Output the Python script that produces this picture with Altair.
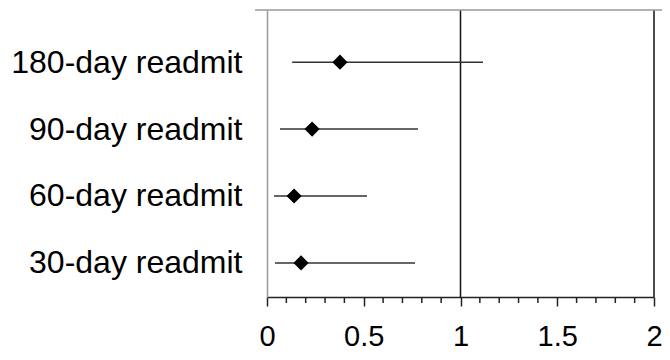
import altair as alt
import pandas as pd

outcomes = ["30-day readmit", "60-day readmit", "90-day readmit", "180-day readmit"]
positions = [1, 2, 3, 4]
estimates = [0.176, 0.14, 0.233, 0.377]
lower = [0.041, 0.036, 0.067, 0.13]
upper = [0.765, 0.517, 0.78, 1.116]

major_ticks = [0, 0.5, 1, 1.5, 2]
minor_ticks = [0.1, 0.2, 0.3, 0.4, 0.6, 0.7, 0.8, 0.9, 1.1, 1.2, 1.3, 1.4, 1.6, 1.7, 1.8, 1.9]
ref_lines = [1, 2]

W, H = 387, 287

df = pd.DataFrame({"outcome": outcomes, "pos": positions, "est": estimates,
                   "lo": lower, "hi": upper})
ticks_df = pd.DataFrame({"t": minor_ticks})
ref_df = pd.DataFrame({"r": ref_lines})

label_expr = "[" + ",".join("'" + o + "'" for o in outcomes) + "][datum.value - 1]"

xscale = alt.Scale(domain=[0, 2], nice=False, zero=False)
yscale = alt.Scale(domain=[0.49, 4.78], nice=False, zero=False)

x_axis = alt.Axis(values=major_ticks, format="~g", title=None, grid=False,
                  tickSize=9, tickColor="#222", domainColor="#222",
                  domainWidth=1.5, tickWidth=1.5,
                  labelFont="Liberation Sans", labelFontSize=29, labelColor="#000",
                  labelPadding=16, labelFlush=False, labelLimit=0)
y_axis = alt.Axis(values=positions, labelExpr=label_expr, title=None, grid=False,
                  tickSize=0, domainColor="#999", domainWidth=1.5,
                  labelFont="Liberation Sans", labelFontSize=32, labelColor="#000",
                  labelPadding=25, labelLimit=0)

base = alt.Chart(df)

ci = base.mark_rule(color="#333", strokeWidth=1.5).encode(
    x=alt.X("lo:Q", scale=xscale, axis=x_axis),
    x2="hi:Q",
    y=alt.Y("pos:Q", scale=yscale, axis=y_axis),
)

pts = base.mark_point(shape="diamond", filled=True, color="#000", size=230, opacity=1).encode(
    x=alt.X("est:Q", scale=xscale),
    y=alt.Y("pos:Q", scale=yscale),
)

refs = alt.Chart(ref_df).mark_rule(color="#111", strokeWidth=1.5).encode(
    x=alt.X("r:Q", scale=xscale),
    y=alt.value(0), y2=alt.value(H),
)

minor = alt.Chart(ticks_df).mark_rule(color="#222", strokeWidth=1.5).encode(
    x=alt.X("t:Q", scale=xscale),
    y=alt.value(H), y2=alt.value(H + 6),
)

top = alt.Chart(ref_df.head(1)).mark_rule(color="#999", strokeWidth=1.5).encode(
    x=alt.value(-12), x2=alt.value(W + 8), y=alt.value(0),
)

chart = alt.layer(refs, top, minor, ci, pts).properties(
    width=W, height=H,
    autosize=alt.AutoSizeParams(type="none"),
    padding={"left": 259, "top": 2, "right": 8, "bottom": 55},
).configure_view(stroke=None)

chart.save("out.html", embed_options={"renderer": "svg", "actions": False})
